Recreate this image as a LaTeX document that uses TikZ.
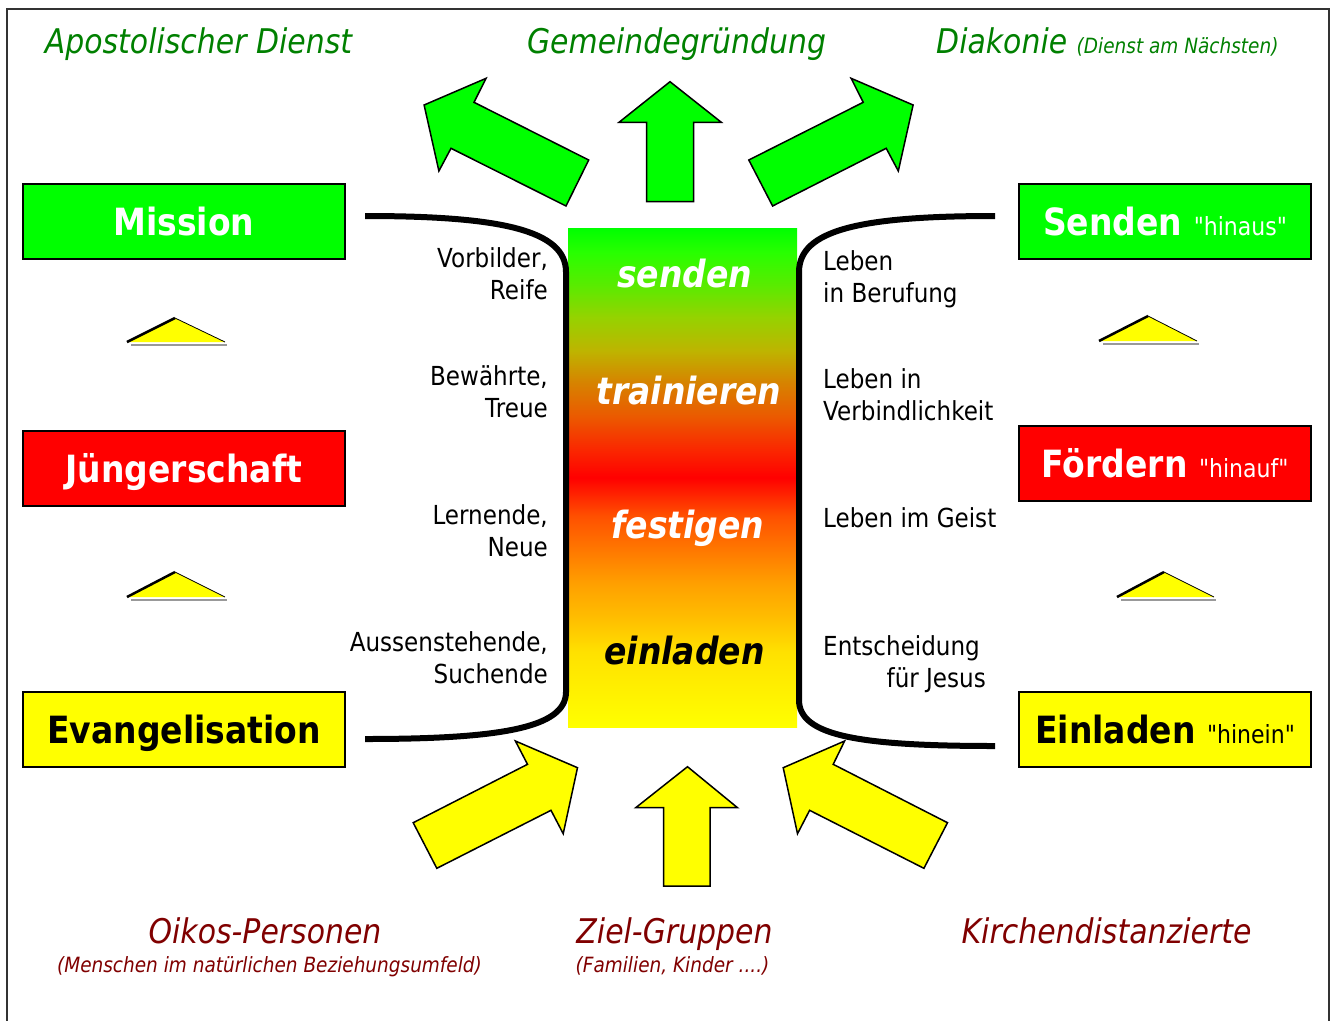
\documentclass[tikz,border=0pt]{standalone}
\usepackage{fontspec}
\setmainfont{DejaVu Sans}[FakeStretch=0.88, Ligatures=TeXOff]
\definecolor{agreen}{RGB}{0,255,0}
\definecolor{ared}{RGB}{255,0,0}
\definecolor{ayellow}{RGB}{255,255,0}
\definecolor{dgreen}{RGB}{0,128,0}
\definecolor{dred}{RGB}{128,0,0}
\definecolor{cA}{RGB}{255,225,0}
\definecolor{cB}{RGB}{255,190,0}
\definecolor{cC}{RGB}{255,160,0}
\definecolor{cD}{RGB}{255,120,0}
\definecolor{cE}{RGB}{255,80,0}
\definecolor{cF}{RGB}{250,40,0}
\definecolor{cG}{RGB}{235,90,0}
\definecolor{cH}{RGB}{215,130,0}
\definecolor{cI}{RGB}{190,180,0}
\definecolor{cJ}{RGB}{150,210,0}
\definecolor{cK}{RGB}{90,235,0}
\definecolor{cL}{RGB}{40,255,0}
\pgfdeclareverticalshading{central}{100bp}{color(0bp)=(ayellow); color(25bp)=(ayellow); color(32.5bp)=(cA); color(35.9bp)=(cB); color(39.35bp)=(cC); color(42.75bp)=(cD); color(46.15bp)=(cE); color(50bp)=(ared); color(52.85bp)=(cF); color(56.15bp)=(cG); color(59.45bp)=(cH); color(62.7bp)=(cI); color(66bp)=(cJ); color(69.25bp)=(cK); color(72.55bp)=(cL); color(75bp)=(agreen); color(100bp)=(agreen)}
\tikzset{
  boxnode/.style={draw=black, line width=2pt, inner sep=0pt, text height=27pt, text depth=0pt,
    minimum height=75pt, font=\fontsize{37.5}{40}\selectfont\bfseries},
  leftbox/.style={boxnode, minimum width=322pt},
  rightbox/.style={boxnode, minimum width=292pt},
  toplab/.style={font=\fontsize{34}{36}\selectfont\itshape, text=dgreen, inner sep=0pt, anchor=base},
  botlab/.style={font=\fontsize{34}{36}\selectfont\itshape, text=dred, inner sep=0pt, anchor=base},
  botsub/.style={font=\fontsize{21}{24}\selectfont\itshape, text=dred, inner sep=0pt, anchor=base},
  centlab/.style={font=\fontsize{37.5}{40}\selectfont\bfseries\itshape, inner sep=0pt, anchor=base},
  sidelab/.style={font=\fontsize{26.2}{32}\selectfont, inner sep=0pt},
  garrow/.style={fill=agreen, draw=black, line width=1.5pt, line join=miter},
  yarrow/.style={fill=ayellow, draw=black, line width=1.5pt, line join=miter},
  bracket/.style={line width=6pt},
  tri/.style={fill=ayellow},
  trithick/.style={line width=2.5pt},
  trithin/.style={line width=0.8pt},
  trishadow/.style={draw=black!40, line width=2pt}
}
\begin{document}
\begin{tikzpicture}[x=1pt, y=-1pt]
\useasboundingbox (0,0) rectangle (1337,1020);
% frame
\draw[draw=black!80, line width=2pt] (7,9) rectangle (1329,1040);

% top labels
\node[toplab] (tApo) at (198.5,53) {Apostolischer Dienst};
\node[toplab] (tGem) at (676.5,53) {Gemeindegründung};
\node[toplab, anchor=base west] (tDia) at (936,53) {Diakonie {\fontsize{21}{24}\selectfont (Dienst am Nächsten)}};

% top arrows
\draw[garrow] (424.1,105) -- (486.1,78.3) -- (474,102.3) -- (588.7,160) -- (566,206) -- (451,148.3) -- (438.9,171) -- cycle;
\draw[garrow] (670,81.7) -- (721.3,122.3) -- (693.7,122.3) -- (693.7,201.7) -- (646.6,201.7) -- (646.6,122.3) -- (619,122.3) -- cycle;
\draw[garrow] (913.1,105) -- (851.1,78.3) -- (863.2,102.3) -- (748.8,160) -- (772.6,206) -- (886.2,148.3) -- (898.3,171) -- cycle;

% bottom arrows
\draw[yarrow] (577.5,767.7) -- (563.2,833.7) -- (551,810.3) -- (436.8,868.3) -- (413.2,822.7) -- (527.5,764.3) -- (515.4,741) -- cycle;
\draw[yarrow] (687.5,766.7) -- (737.5,807.7) -- (710,807.7) -- (710,886) -- (663.6,886) -- (663.6,807.7) -- (635.7,807.7) -- cycle;
\draw[yarrow] (783.2,767.7) -- (844.6,741) -- (833.2,764.3) -- (947.5,822.7) -- (923.9,868.3) -- (809.6,810.3) -- (797.5,833.7) -- cycle;

% central gradient column
\shade[shading=central] (568,228) rectangle (797,727);
\node[centlab, text=white] (cSen) at (684.5,287) {senden};
\node[centlab, text=white] (cTra) at (689,404) {trainieren};
\node[centlab, text=white] (cFes) at (688,538) {festigen};
\node[centlab, text=black] (cEin) at (684.5,664) {einladen};

% brackets
\draw[bracket] (365,216) .. controls (500,216) and (566,230) .. (566,272) -- (566,692) .. controls (566,728) and (500,739) .. (365,739);
\draw[bracket] (995,216) .. controls (860,216) and (799,230) .. (799,272) -- (799,700) .. controls (799,736) and (860,746) .. (995,746);

% left side labels
\node[sidelab, anchor=base east] (lVor) at (548,267.5) {Vorbilder,};
\node[sidelab, anchor=base east] (lRei) at (548,299.5) {Reife};
\node[sidelab, anchor=base east] (lBew) at (548,385.5) {Bewährte,};
\node[sidelab, anchor=base east] (lTre) at (548,417.5) {Treue};
\node[sidelab, anchor=base east] (lLer) at (548,524.5) {Lernende,};
\node[sidelab, anchor=base east] (lNeu) at (548,556.5) {Neue};
\node[sidelab, anchor=base east] (lAus) at (548,651.5) {Aussenstehende,};
\node[sidelab, anchor=base east] (lSuc) at (548,683.5) {Suchende};

% right side labels
\node[sidelab, anchor=base west] (rLe1) at (823,270.5) {Leben};
\node[sidelab, anchor=base west] (rBer) at (823,302.5) {in Berufung};
\node[sidelab, anchor=base west] (rLe2) at (823,388.5) {Leben in};
\node[sidelab, anchor=base west] (rVer) at (823,420.5) {Verbindlichkeit};
\node[sidelab, anchor=base west] (rGei) at (823,527.5) {Leben im Geist};
\node[sidelab, anchor=base west] (rEnt) at (823,655.5) {Entscheidung};
\node[sidelab, anchor=base east] (rJes) at (986,687.5) {für Jesus};

% left boxes
\node[leftbox, fill=agreen, text=white] (bMis) at (184,221.5) {Mission};
\node[leftbox, fill=ared, text=white] (bJue) at (184,468.5) {Jüngerschaft};
\node[leftbox, fill=ayellow, text=black] (bEva) at (184,729.5) {Evangelisation};

% right boxes
\node[rightbox, fill=agreen, text=white] (bSen) at (1165,221.5) {Senden {\fontsize{25}{28}\selectfont\mdseries "hinaus"}};
\node[rightbox, fill=ared, text=white] (bFoe) at (1165,463.5) {Fördern {\fontsize{25}{28}\selectfont\mdseries "hinauf"}};
\node[rightbox, fill=ayellow, text=black] (bEin) at (1165,729.5) {Einladen {\fontsize{25}{28}\selectfont\mdseries "hinein"}};

% small triangles
\foreach \ax/\ay/\lx/\rx/\by in {175/318/127/225/342, 175/572/127/225/597, 1148/316/1099/1197/341, 1164/572/1117/1214/597}{
  \draw[trishadow] (\lx+4,\by+3) -- (\rx+2,\by+3);
  \fill[tri] (\lx,\by) -- (\ax,\ay) -- (\rx,\by) -- cycle;
  \draw[trithick] (\lx,\by) -- (\ax,\ay);
  \draw[trithin] (\ax,\ay) -- (\rx,\by);
}

% bottom labels
\node[botlab] (bOik) at (265,943) {Oikos-Personen};
\node[botsub] (sOik) at (269.5,972) {(Menschen im natürlichen Beziehungsumfeld)};
\node[botlab] (bZie) at (674.5,943) {Ziel-Gruppen};
\node[botsub] (sZie) at (672.5,972) {(Familien, Kinder ....)};
\node[botlab] (bKir) at (1106.5,943) {Kirchendistanzierte};
\end{tikzpicture}
\end{document}
